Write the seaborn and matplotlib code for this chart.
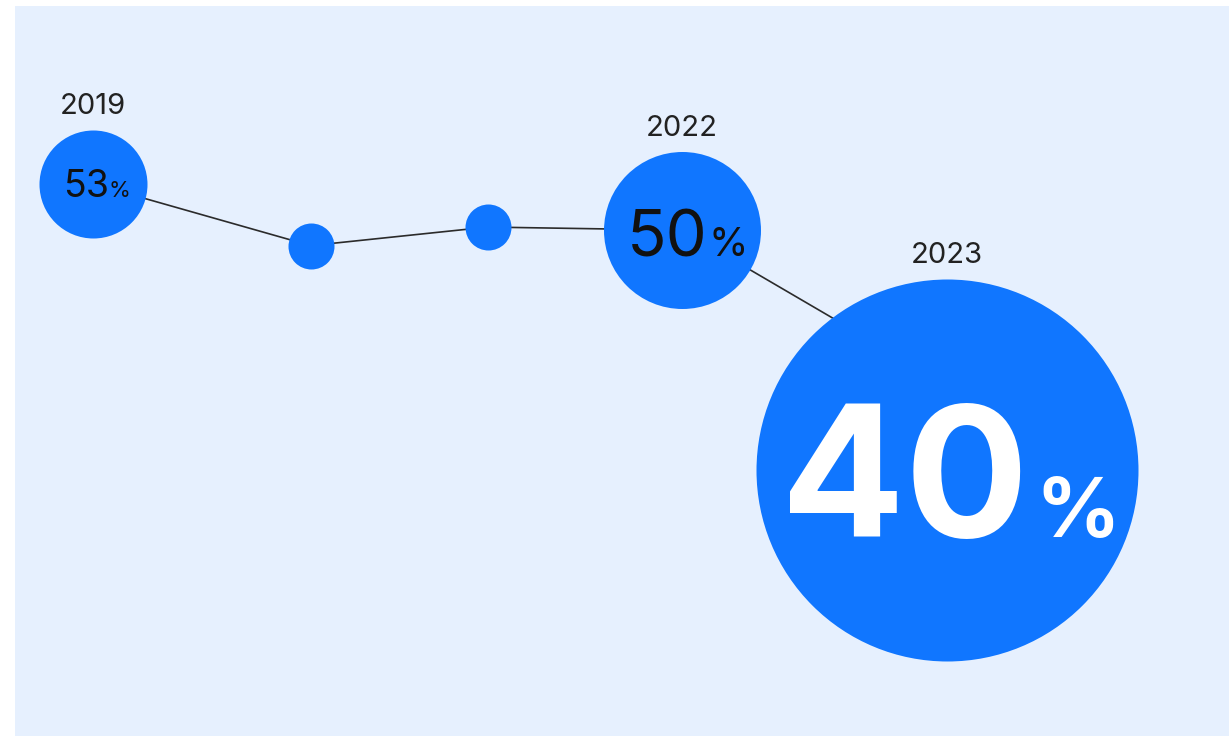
import matplotlib
matplotlib.use("Agg")
import matplotlib.pyplot as plt
import matplotlib.transforms as mtransforms
import seaborn as sns
import pandas as pd

# ---- data ----
year_labels = ["2019", "", "", "2022", "2023"]
timeline = [0.0, 1.02, 1.85, 2.76, 4.0]
share = [53, 49, 50.2, 50, 40]
value_text = ["53", None, None, "50", "40"]

# ---- style ----
sns.set_theme(style="white")
plt.rcParams["font.family"] = ["Inter", "DejaVu Sans"]

BG = "#E6F0FE"
BLUE = "#1076FF"
LINE = "#2b2b2b"
DPI = 100

bubble_radius_px = [54, 23, 23, 78.5, 191]
bubble_shift_px = [0, 0, 0, 0, 85]  # downward shift of the bubble relative to the line point
# (junction dx, baseline dy below centre, number size, pct size, color, weight, gap)
value_style = [
    (16, 13, 27, 16, "#111111", "normal", 0),
    None, None,
    (25, 26, 47, 29, "#111111", "normal", 1),
    (82, 67, 132, 60, "white", "bold", 6),
]

df = pd.DataFrame({"t": timeline, "share": share, "year": year_labels})

fig = plt.figure(figsize=(12.29, 7.36), dpi=DPI)
fig.patch.set_facecolor("white")
ax = fig.add_axes([15 / 1229, 0, 1 - 15 / 1229, 730 / 736])
ax.set_facecolor(BG)

sns.lineplot(data=df, x="t", y="share", ax=ax, color=LINE, linewidth=1.2,
             errorbar=None, sort=False, zorder=1)

sizes = [(2 * r * 72 / DPI) ** 2 for r in bubble_radius_px]
for i in range(len(df)):
    sns.scatterplot(data=df.iloc[[i]], x="t", y="share", ax=ax, color=BLUE,
                    s=sizes[i], linewidth=0, legend=False, zorder=2)
    coll = ax.collections[-1]
    if bubble_shift_px[i]:
        coll.set_offset_transform(
            ax.transData + mtransforms.ScaledTranslation(0, -bubble_shift_px[i] / DPI, fig.dpi_scale_trans))

for i, row in df.iterrows():
    shift = bubble_shift_px[i]
    r = bubble_radius_px[i]
    if row["year"]:
        ax.annotate(row["year"], xy=(row["t"], row["share"]), xytext=(0, -shift + r + 16),
                    textcoords="offset pixels", ha="center", va="baseline",
                    fontsize=21, color="#222222", zorder=3)
    st = value_style[i]
    if st is not None:
        dx, dy, fs_num, fs_pct, col, wt, gap = st
        ax.annotate(value_text[i], xy=(row["t"], row["share"]), xytext=(dx, -shift - dy),
                    textcoords="offset pixels", ha="right", va="baseline",
                    fontsize=fs_num, color=col, fontweight=wt, zorder=3)
        ax.annotate("%", xy=(row["t"], row["share"]), xytext=(dx + gap, -shift - dy),
                    textcoords="offset pixels", ha="left", va="baseline",
                    fontsize=fs_pct, color=col, fontweight=wt, zorder=3)

ax.set_xlim(-0.365, 5.321)
ax.set_ylim(17.30, 64.49)
ax.set_xticks([])
ax.set_yticks([])
ax.set_xlabel("")
ax.set_ylabel("")
for s in ax.spines.values():
    s.set_visible(False)

fig.savefig("out.png", dpi=DPI)
